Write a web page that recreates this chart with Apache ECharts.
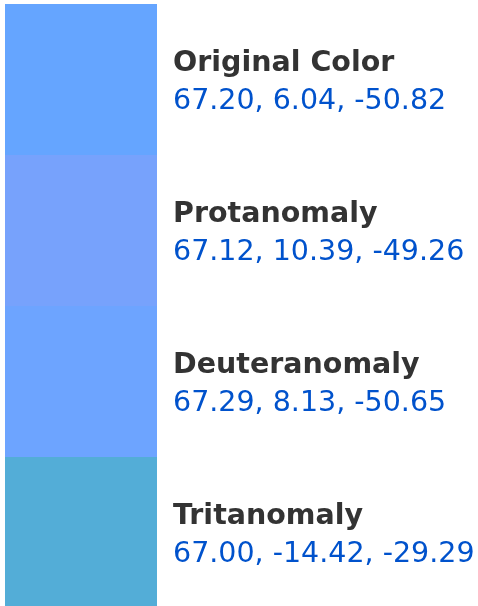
<!DOCTYPE html>
<html>
<head>
    <meta charset="utf-8">
    <title>Color vision simulation</title>
    <script src="https://cdn.jsdelivr.net/npm/echarts@6/dist/echarts.min.js"></script>
    <style>
        html, body { margin: 0; padding: 0; background: #fff; }
    </style>
</head>
<body>
    <div id="main" style="width: 478px;height:606px;"></div>
<script>
    // swatch names and their Lab values
    var names = ['Original Color', 'Protanomaly', 'Deuteranomaly', 'Tritanomaly'];
    var labL = [67.20, 67.12, 67.29, 67.00];
    var labA = [6.04, 10.39, 8.13, -14.42];
    var labB = [-50.82, -49.26, -50.65, -29.29];
    var swatchColors = ['#65a5ff', '#77a2fc', '#6da4ff', '#53add7'];

    var chart = echarts.init(document.getElementById('main'));

    var data = [];
    for (var i = 0; i < names.length; i++) {
        data.push({
            name: names[i],
            value: 1,
            itemStyle: { color: swatchColors[i] },
            lab: labL[i].toFixed(2) + ', ' + labA[i].toFixed(2) + ', ' + labB[i].toFixed(2)
        });
    }

    var option = {
        backgroundColor: '#fff',
        animation: false,
        // 4 swatches of 151px each, last one runs off the bottom edge
        grid: { left: 5, top: 4, width: 152, height: 604, outerBoundsMode: 'none' },
        xAxis: { type: 'value', min: 0, max: 1, show: false },
        yAxis: { type: 'category', data: names, inverse: true, show: false },
        series: [{
            type: 'bar',
            barCategoryGap: 0,
            data: data,
            label: {
                show: true,
                position: 'right',
                distance: 16,
                offset: [0, 3],
                formatter: function (p) {
                    return '{t|' + p.name + '}\n{v|' + p.data.lab + '}';
                },
                rich: {
                    t: {
                        fontFamily: 'DejaVu Sans',
                        fontSize: 28.5,
                        fontWeight: 'bold',
                        color: '#333',
                        lineHeight: 38
                    },
                    v: {
                        fontFamily: 'DejaVu Sans',
                        fontSize: 28.5,
                        color: '#0052cc',
                        lineHeight: 38
                    }
                }
            }
        }]
    };
    chart.setOption(option);
</script>
</body>
</html>
